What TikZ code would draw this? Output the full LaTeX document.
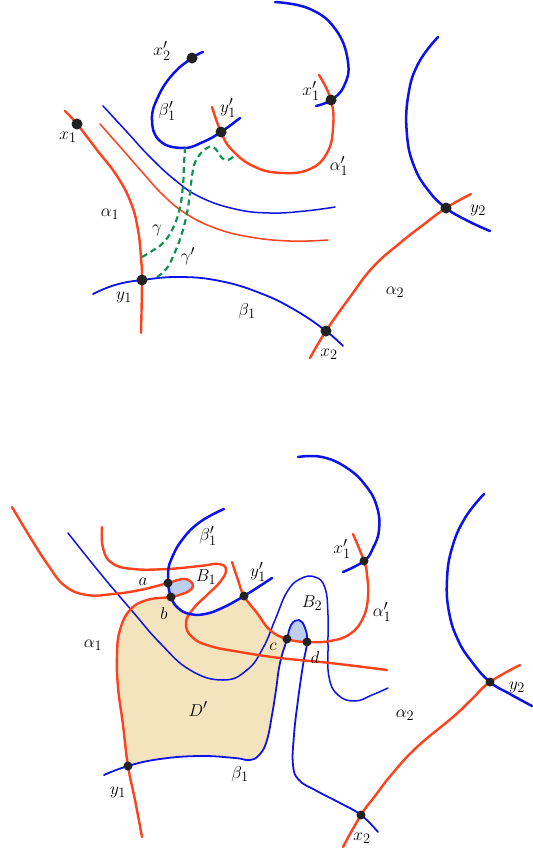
\documentclass[tikz,border=0pt]{standalone}
\usepackage{tikz}
\definecolor{blueC}{RGB}{12,18,232}
\definecolor{redC}{RGB}{255,66,28}
\definecolor{greenC}{RGB}{16,146,80}
\definecolor{dotC}{RGB}{34,34,34}
\definecolor{dfillC}{RGB}{244,228,190}
\definecolor{bfillC}{RGB}{190,206,238}
\tikzset{
  bthick/.style={draw=blueC, line width=2.5pt, line cap=round},
  bmed/.style={draw=blueC, line width=1.8pt, line cap=round},
  bthin/.style={draw=blueC, line width=1.5pt, line cap=round},
  rthick/.style={draw=redC, line width=2.4pt, line cap=round},
  rthin/.style={draw=redC, line width=1.5pt, line cap=round},
  gdash/.style={draw=greenC, line width=2.2pt, dash pattern=on 6pt off 4pt},
  pdot/.style={circle, fill=dotC, inner sep=0pt, minimum size=11pt},
  pdotb/.style={circle, fill=dotC, inner sep=0pt, minimum size=9pt},
  lab/.style={font=\fontsize{19}{22}\selectfont, inner sep=0pt},
  sm/.style={smooth, tension=0.75}
}
\begin{document}
\begin{tikzpicture}[x=1pt,y=-1pt]
\useasboundingbox (0,0) rectangle (533,852);
% ---------- named points, top ----------
\coordinate (x2pT) at (192,58);
\coordinate (y1pT) at (221,132);
\coordinate (x1pT) at (331,100);
\coordinate (x1T) at (77,124);
\coordinate (y1T) at (142,280);
\coordinate (x2T) at (326,331);
\coordinate (y2T) at (446,208);
% ---------- named points, bottom ----------
\coordinate (aB) at (168,583);
\coordinate (bB) at (171,597);
\coordinate (y1pB) at (244,596);
\coordinate (cB) at (287,639);
\coordinate (dB) at (307,642);
\coordinate (x1pB) at (364,561);
\coordinate (y1B) at (128,766);
\coordinate (x2B) at (361,815);
\coordinate (y2B) at (490,682);

% ---------- fills ----------
\fill[dfillC] plot[sm] coordinates {(bB) (178,608) (190,614) (205,614) (222,608) (y1pB)}
  -- plot[sm] coordinates {(y1pB) (257,613) (270,630) (cB)}
  -- plot[sm] coordinates {(cB) (280,663) (276,690) (272,715) (267,740) (260,754) (250,760)}
  -- plot[sm] coordinates {(250,760) (235,758) (200,756) (160,759) (y1B)}
  -- plot[sm] coordinates {(y1B) (123,725) (118,687) (117,655) (120,630) (130,610) (147,600) (bB)}
  -- cycle;
\fill[bfillC] plot[smooth, tension=0.6] coordinates {(aB) (182,579) (190,581) (193,586) (189,591) (182,594) (bB)} -- cycle;
\fill[bfillC] plot[smooth, tension=0.6] coordinates {(cB) (291,625) (299,620) (305,628) (dB)} -- cycle;

% ---------- top figure ----------
\draw[rthin] plot[sm] coordinates {(100,124) (122,149) (143,173) (163,195) (185,213) (215,228) (250,237) (290,241) (328,240)};
\draw[bthin] plot[sm] coordinates {(103,106) (127,132) (150,157) (175,180) (200,197) (235,209) (270,213) (305,211) (335,207)};
\draw[bmed] plot[sm] coordinates {(93,294) (115,285) (y1T) (180,277) (220,281) (260,293) (295,310) (x2T) (343,346)};
\draw[bthick] plot[sm] coordinates {(203,52) (x2pT) (173,74) (158,97) (152,120) (160,141) (183,148) (203,142) (y1pT) (240,118)};
\draw[rthick] plot[sm] coordinates {(212,107) (y1pT) (232,150) (255,167) (283,173) (310,169) (327,153) (333,128) (x1pT) (319,75)};
\draw[bthick] plot[sm] coordinates {(275,2) (310,9) (336,30) (348,62) (344,86) (x1pT) (316,106)};
\draw[rthick] plot[sm] coordinates {(65,111) (x1T) (97,150) (117,176) (131,203) (138,230) (141,258) (y1T) (141,333)};
\draw[rthick] plot[sm] coordinates {(310,358) (x2T) (350,297) (373,267) (400,243) (423,225) (y2T) (471,194)};
\draw[bthick] plot[sm] coordinates {(438,37) (418,64) (408,97) (407,135) (414,166) (428,190) (y2T) (468,221) (490,231)};
\draw[gdash] plot[sm] coordinates {(142,257) (152,251) (164,242) (174,226) (180,207) (183,185) (184,165) (185,148)};
\draw[gdash] plot[sm] coordinates {(157,277) (167,268) (175,252) (182,233) (187,213) (190,193) (193,170) (198,157) (207,148) (213,147) (218,152) (222,158) (228,160) (235,155)};

% ---------- bottom figure ----------
\draw[bthin] plot[sm] coordinates {(68,533) (100,573) (133,612) (160,643) (190,670) (223,680) (247,670) (263,648) (275,620) (287,592) (300,579) (315,577) (325,588) (328,615) (328,645) (329,677) (338,695) (355,701) (372,695) (388,688)};
\draw[bmed] plot[sm] coordinates {(104,775) (y1B) (160,759) (200,756) (235,758) (250,760) (260,754) (267,740) (272,715) (276,690) (280,663) (cB) (291,625) (299,620) (305,628) (dB) (303,665) (298,700) (294,735) (293,765) (299,780) (315,790) (340,803) (x2B) (378,832)};
\draw[rthick] plot[sm] coordinates {(12,507) (30,537) (48,565) (65,586) (87,595) (113,594) (140,590) (aB) (182,579) (190,581) (193,586) (189,591) (182,594) (bB) (147,600) (130,610) (120,630) (117,655) (118,687) (123,725) (y1B) (135,800) (142,837)};
\draw[rthick] plot[sm] coordinates {(102,527) (103,548) (112,563) (133,569) (167,569) (200,566) (219,564) (226,570) (220,582) (207,595) (193,609) (186,623) (192,637) (210,646) (240,652) (280,658) (330,663) (387,670)};
\draw[bthick] plot[sm] coordinates {(224,509) (200,522) (182,540) (171,560) (168,573) (aB) (bB) (178,608) (190,614) (205,614) (222,608) (y1pB) (272,578)};
\draw[rthick] plot[sm] coordinates {(232,562) (238,580) (y1pB) (257,613) (270,630) (cB) (dB) (330,641) (350,634) (363,618) (368,597) (367,575) (x1pB) (353,534)};
\draw[bthick] plot[sm] coordinates {(298,457) (322,457) (347,468) (366,486) (377,507) (379,530) (373,548) (x1pB) (343,572)};
\draw[rthick] plot[sm] coordinates {(343,847) (x2B) (375,796) (392,774) (417,747) (453,717) (472,699) (y2B) (520,665)};
\draw[bthick] plot[sm] coordinates {(484,494) (465,518) (452,548) (447,580) (449,612) (458,640) (472,662) (y2B) (510,694) (532,706)};

% ---------- dots ----------
\foreach \p in {x2pT,y1pT,x1pT,x1T,y1T,x2T,y2T} \node[pdot] (d\p) at (\p) {};
\foreach \p in {aB,bB,y1pB,cB,dB,x1pB,y1B,x2B,y2B} \node[pdotb] (d\p) at (\p) {};

% ---------- labels, top ----------
\node[lab] (lx2pT) at (162,51) {$x_2'$};
\node[lab] (lb1pT) at (167,111) {$\beta_1'$};
\node[lab] (ly1pT) at (228,108) {$y_1'$};
\node[lab] (lx1pT) at (311,91) {$x_1'$};
\node[lab] (la1pT) at (339,166) {$\alpha_1'$};
\node[lab] (lx1T) at (68,137) {$x_1$};
\node[lab] (la1T) at (110,214) {$\alpha_1$};
\node[lab] (lgT) at (157,230) {$\gamma$};
\node[lab] (lgpT) at (188,256) {$\gamma'$};
\node[lab] (ly1T) at (124,297) {$y_1$};
\node[lab] (lb1T) at (247,311) {$\beta_1$};
\node[lab] (lx2T) at (329,354) {$x_2$};
\node[lab] (la2T) at (395,292) {$\alpha_2$};
\node[lab] (ly2T) at (478,210) {$y_2$};
% ---------- labels, bottom ----------
\node[lab] (lb1pB) at (208,536) {$\beta_1'$};
\node[lab] (laB) at (143,582) {$a$};
\node[lab] (lB1) at (206,577) {$B_1$};
\node[lab] (lbB) at (164,613) {$b$};
\node[lab] (ly1pB) at (258,572) {$y_1'$};
\node[lab] (lx1pB) at (342,549) {$x_1'$};
\node[lab] (lB2) at (312,603) {$B_2$};
\node[lab] (la1pB) at (382,612) {$\alpha_1'$};
\node[lab] (lcB) at (273,647) {$c$};
\node[lab] (ldB) at (315,657) {$d$};
\node[lab] (la1B) at (93,645) {$\alpha_1$};
\node[lab] (lDp) at (198,709) {$D'$};
\node[lab] (ly1B) at (118,792) {$y_1$};
\node[lab] (lb1B) at (240,774) {$\beta_1$};
\node[lab] (lx2B) at (362,838) {$x_2$};
\node[lab] (la2B) at (405,715) {$\alpha_2$};
\node[lab] (ly2B) at (517,687) {$y_2$};
\end{tikzpicture}
\end{document}
